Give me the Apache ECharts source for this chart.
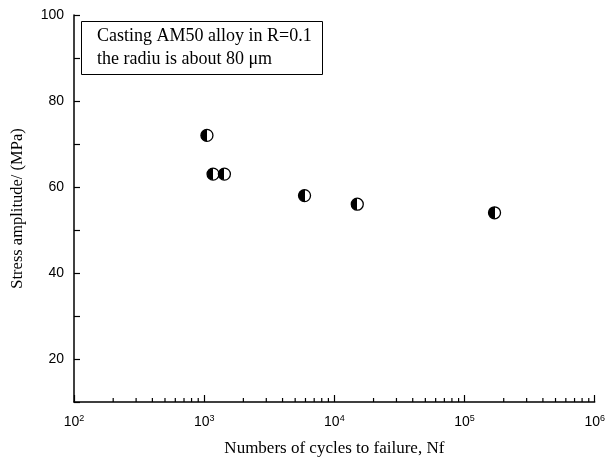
<!DOCTYPE html>
<html><head><meta charset="utf-8">
<script src="https://cdn.jsdelivr.net/npm/echarts@6/dist/echarts.min.js"></script>
<style>html,body{margin:0;padding:0;background:#fff}#c{width:608px;height:462px}</style>
</head><body><div id="c"></div>
<script>
// Data
const cycles = [1050, 1170, 1430, 5900, 15000, 170000];
const stress = [72, 63, 63, 58, 56, 54];
const xTickExponents = [2, 3, 4, 5, 6];
const yTickLabels = [20, 40, 60, 80, 100];
const minorTickValues = [];
for (let e = 2; e < 6; e++) for (let m = 2; m <= 9; m++) minorTickValues.push(m * Math.pow(10, e));
const noteLines = ['Casting AM50 alloy in R=0.1', 'the radiu is about 80 \u03bcm'];

const chart = echarts.init(document.getElementById('c'), null, {renderer: 'canvas'});
const halfFill = new echarts.graphic.LinearGradient(0, 0, 1, 0, [
  {offset: 0, color: '#000'}, {offset: 0.5, color: '#000'},
  {offset: 0.5, color: '#fff'}, {offset: 1, color: '#fff'}
]);
const option = {
  backgroundColor: '#fff',
  animation: false,
  grid: {left: 74, right: 8, top: 15, bottom: 60},
  xAxis: {
    type: 'log', logBase: 10, min: 100, max: 1000000,
    name: 'Numbers of cycles to failure, Nf', nameLocation: 'middle', nameGap: 38,
    nameTextStyle: {fontFamily: 'Liberation Serif', fontSize: 17, color: '#000'},
    axisLine: {lineStyle: {color: '#000', width: 1.5}},
    axisTick: {inside: true, length: 7, lineStyle: {color: '#000', width: 1.2}},
    splitLine: {show: false},
    axisLabel: {
      margin: 12, color: '#000', fontFamily: 'Liberation Sans', fontSize: 14,
      formatter: function (v) {
        const e = Math.round(Math.log10(v));
        return xTickExponents.indexOf(e) >= 0 ? '10{sup|' + e + '}' : '';
      },
      rich: {sup: {fontSize: 9, verticalAlign: 'top', padding: [0, 0, 8, 0], fontFamily: 'Liberation Sans', color: '#000'}}
    }
  },
  yAxis: {
    type: 'value', min: 10, max: 100, interval: 10,
    name: 'Stress amplitude/ (MPa)', nameLocation: 'middle', nameGap: 48,
    nameTextStyle: {fontFamily: 'Liberation Serif', fontSize: 16.5, color: '#000'},
    axisLine: {show: true, lineStyle: {color: '#000', width: 1.5}},
    axisTick: {show: true, inside: true, length: 6, lineStyle: {color: '#000', width: 1.2}},
    splitLine: {show: false},
    axisLabel: {
      margin: 10, color: '#000', fontFamily: 'Liberation Sans', fontSize: 14,
      formatter: function (v) { return yTickLabels.indexOf(v) >= 0 ? String(v) : ''; }
    }
  },
  series: [
    {
      type: 'custom', silent: true, z: 1,
      data: minorTickValues.map(v => [v, 10]),
      renderItem: function (params, api) {
        const p = api.coord([api.value(0), api.value(1)]);
        return {type: 'line', shape: {x1: p[0], y1: p[1], x2: p[0], y2: p[1] - 4},
          style: {stroke: '#000', lineWidth: 1.2}};
      }
    },
    {
      type: 'scatter', z: 5,
      data: cycles.map((c, i) => [c, stress[i]]),
      symbol: 'circle', symbolSize: 12,
      itemStyle: {color: halfFill, borderColor: '#000', borderWidth: 1.3, opacity: 1}
    }
  ],
  graphic: [
    {type: 'rect', left: 81, top: 21, shape: {width: 241, height: 53},
      style: {fill: '#fff', stroke: '#000', lineWidth: 1}, z: 10},
    {type: 'text', left: 97, top: 27, z: 11,
      style: {text: noteLines[0], font: '18px "Liberation Serif"', fill: '#000'}},
    {type: 'text', left: 97, top: 50, z: 11,
      style: {text: noteLines[1], font: '18px "Liberation Serif"', fill: '#000'}}
  ]
};
chart.setOption(option);
</script></body></html>
